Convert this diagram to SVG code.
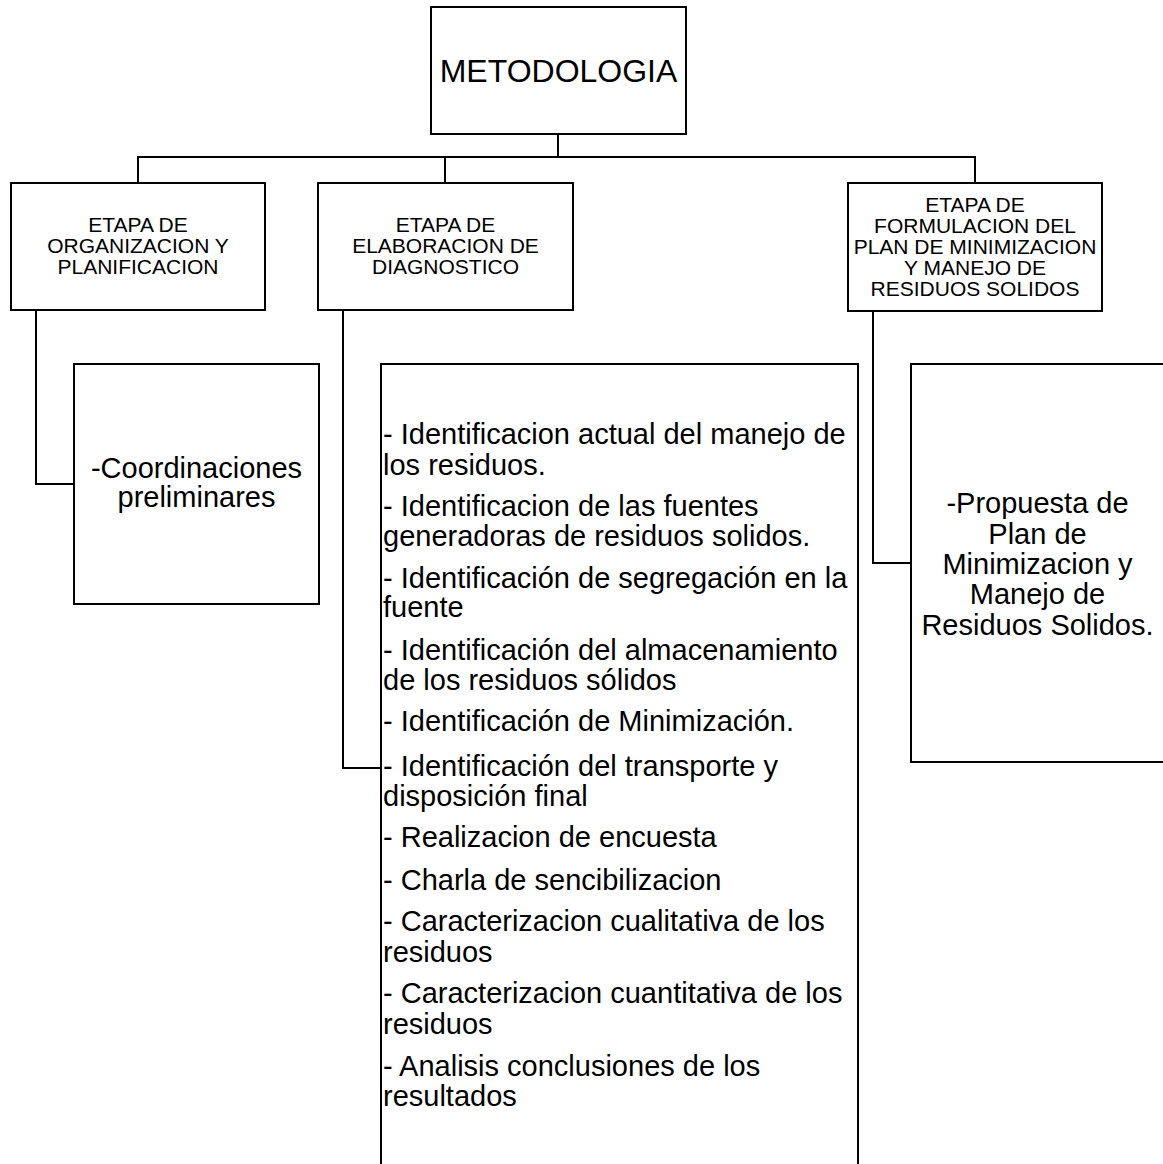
<svg xmlns="http://www.w3.org/2000/svg" width="1163" height="1164" viewBox="0 0 1163 1164">
<style>
.box{fill:#fff;stroke:#000;stroke-width:2}
.con{fill:none;stroke:#000;stroke-width:2}
text{font-family:"Liberation Sans",Arial,sans-serif;fill:#000}
.t32{font-size:32px;text-anchor:middle}
.t21{font-size:21px;text-anchor:middle}
.t29c{font-size:29px;text-anchor:middle}
.t29{font-size:29px}
</style>
<rect width="1163" height="1164" fill="#fff"/>
<g id="connectors">
<polyline class="con" points="558,134 558,157"/>
<polyline class="con" points="138,183 138,157 975,157 975,183"/>
<polyline class="con" points="445,157 445,183"/>
<polyline class="con" points="36,310 36,484 74,484"/>
<polyline class="con" points="343,310 343,768 381,768"/>
<polyline class="con" points="873,311 873,563 911,563"/>
</g>
<g id="metodologia">
<rect class="box" x="431" y="7" width="255" height="127"/>
<text class="t32" x="558.5" y="82">METODOLOGIA</text>
</g>
<g id="etapa-organizacion">
<rect class="box" x="11" y="183" width="254" height="127"/>
<text class="t21" x="138"><tspan x="138" y="232">ETAPA DE</tspan><tspan x="138" y="253">ORGANIZACION Y</tspan><tspan x="138" y="274">PLANIFICACION</tspan></text>
</g>
<g id="etapa-diagnostico">
<rect class="box" x="318" y="183" width="255" height="127"/>
<text class="t21" x="445.5"><tspan x="445.5" y="232">ETAPA DE</tspan><tspan x="445.5" y="253">ELABORACION DE</tspan><tspan x="445.5" y="274">DIAGNOSTICO</tspan></text>
</g>
<g id="etapa-formulacion">
<rect class="box" x="848" y="183" width="254" height="128"/>
<text class="t21" x="975"><tspan x="975" y="212">ETAPA DE</tspan><tspan x="975" y="233">FORMULACION DEL</tspan><tspan x="975" y="254">PLAN DE MINIMIZACION</tspan><tspan x="975" y="275">Y MANEJO DE</tspan><tspan x="975" y="296">RESIDUOS SOLIDOS</tspan></text>
</g>
<g id="coordinaciones">
<rect class="box" x="74" y="364" width="245" height="240"/>
<text class="t29c" x="196.5"><tspan x="196.5" y="478">-Coordinaciones</tspan><tspan x="196.5" y="507">preliminares</tspan></text>
</g>
<g id="diagnostico-lista">
<rect class="box" x="381" y="364" width="477" height="820"/>
<text class="t29" x="383">
<tspan x="383" y="444">- Identificacion actual del manejo de</tspan>
<tspan x="383" y="475">los residuos.</tspan>
<tspan x="383" y="516">- Identificacion de las fuentes</tspan>
<tspan x="383" y="546">generadoras de residuos solidos.</tspan>
<tspan x="383" y="588">- Identificación de segregación en la</tspan>
<tspan x="383" y="617">fuente</tspan>
<tspan x="383" y="660">- Identificación del almacenamiento</tspan>
<tspan x="383" y="690">de los residuos sólidos</tspan>
<tspan x="383" y="731">- Identificación de Minimización.</tspan>
<tspan x="383" y="776">- Identificación del transporte y</tspan>
<tspan x="383" y="806">disposición final</tspan>
<tspan x="383" y="847">- Realizacion de encuesta</tspan>
<tspan x="383" y="890">- Charla de sencibilizacion</tspan>
<tspan x="383" y="931">- Caracterizacion cualitativa de los</tspan>
<tspan x="383" y="962">residuos</tspan>
<tspan x="383" y="1003">- Caracterizacion cuantitativa de los</tspan>
<tspan x="383" y="1034">residuos</tspan>
<tspan x="383" y="1076">- Analisis conclusiones de los</tspan>
<tspan x="383" y="1106">resultados</tspan>
</text>
</g>
<g id="propuesta">
<rect class="box" x="911" y="364" width="260" height="398"/>
<text class="t29c" x="1037.5"><tspan x="1037.5" y="513">-Propuesta de</tspan><tspan x="1037.5" y="544">Plan de</tspan><tspan x="1037.5" y="574">Minimizacion y</tspan><tspan x="1037.5" y="604">Manejo de</tspan><tspan x="1037.5" y="635">Residuos Solidos.</tspan></text>
</g>
</svg>
